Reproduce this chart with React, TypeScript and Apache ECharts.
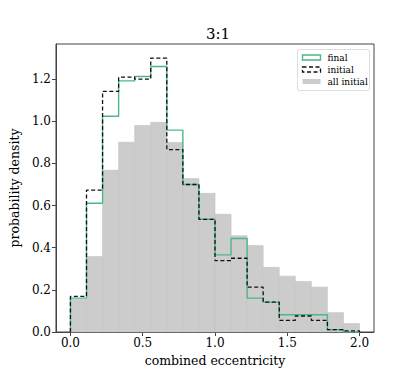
import React, { useEffect, useRef } from "react";
import * as echarts from "echarts";

const title = "3:1";
const xName = "combined eccentricity";
const yName = "probability density";
const xTicks = [0, 0.5, 1.0, 1.5, 2.0];
const yTicks = [0, 0.2, 0.4, 0.6, 0.8, 1.0, 1.2];
const binCount = 18;
const binStart = 0;
const binEnd = 2.0;

const allInitial = [0.155, 0.358, 0.768, 0.901, 0.98, 0.995, 0.9, 0.728, 0.658, 0.559, 0.457, 0.41, 0.307, 0.265, 0.24, 0.213, 0.092, 0.04];
const finalVals = [0.161, 0.611, 1.024, 1.192, 1.213, 1.26, 0.958, 0.7, 0.535, 0.366, 0.444, 0.161, 0.142, 0.082, 0.082, 0.082, 0.011, 0];
const initialVals = [0.169, 0.673, 1.142, 1.21, 1.2, 1.3, 0.866, 0.7, 0.535, 0.339, 0.35, 0.213, 0.142, 0.055, 0.076, 0.055, 0.011, 0.005];

const legendNames = ["final", "initial", "all initial"];

const FONT = "'DejaVu Serif', serif";
const GREEN = "#4cb882";
const GRAY = "#cccccc";

function edges(): number[] {
  const w = (binEnd - binStart) / binCount;
  const e: number[] = [];
  for (let i = 0; i <= binCount; i++) e.push(binStart + i * w);
  return e;
}

function stepPoints(vals: number[]): number[][] {
  const e = edges();
  const pts: number[][] = [[e[0], 0]];
  vals.forEach((v, i) => {
    pts.push([e[i], v]);
    pts.push([e[i + 1], v]);
  });
  pts.push([e[vals.length], 0]);
  return pts;
}

export default function App() {
  const ref = useRef<HTMLDivElement>(null);
  useEffect(() => {
    document.body.style.margin = "0";
    const chart = echarts.init(ref.current!, null, { renderer: "svg" });
    const e = edges();
    const barData = allInitial.map((v, i) => [e[i], e[i + 1], v]);
    const lx = 297;
    const ly = 49;
    chart.setOption({
      animation: false,
      title: {
        text: title,
        left: 213,
        top: 21,
        textAlign: "center",
        textStyle: { fontFamily: FONT, fontSize: 15, fontWeight: "normal", color: "#000" },
      },
      grid: {
        left: 52,
        top: 44,
        width: 322,
        height: 288,
        show: true,
        borderColor: "#444",
        borderWidth: 1,
        backgroundColor: "transparent",
      },
      xAxis: {
        type: "value",
        min: -0.1,
        max: 2.1,
        name: xName,
        nameLocation: "middle",
        nameGap: 20,
        nameTextStyle: { fontFamily: FONT, fontSize: 12.5, color: "#000" },
        axisLine: { show: true, onZero: false, lineStyle: { color: "#444" } },
        axisTick: { show: true, length: 4, lineStyle: { color: "#444" }, customValues: xTicks },
        axisLabel: {
          fontFamily: FONT,
          fontSize: 12,
          color: "#000",
          margin: 5,
          customValues: xTicks,
          formatter: (v: number) => v.toFixed(1),
        },
        splitLine: { show: false },
      },
      yAxis: {
        type: "value",
        min: 0,
        max: 1.367,
        name: yName,
        nameLocation: "middle",
        nameGap: 28,
        nameRotate: 90,
        nameTextStyle: { fontFamily: FONT, fontSize: 12.5, color: "#000" },
        axisLine: { show: true, onZero: false, lineStyle: { color: "#444" } },
        axisTick: { show: true, length: 4, lineStyle: { color: "#444" }, customValues: yTicks },
        axisLabel: {
          fontFamily: FONT,
          fontSize: 12,
          color: "#000",
          margin: 5,
          customValues: yTicks,
          formatter: (v: number) => v.toFixed(1),
        },
        splitLine: { show: false },
      },
      series: [
        {
          type: "custom",
          name: legendNames[2],
          z: 1,
          data: barData,
          encode: { x: [0, 1], y: 2 },
          renderItem: (params: any, api: any) => {
            const p0 = api.coord([api.value(0), api.value(2)]);
            const p1 = api.coord([api.value(1), 0]);
            return {
              type: "rect",
              shape: { x: p0[0], y: p0[1], width: p1[0] - p0[0], height: p1[1] - p0[1] },
              style: { fill: GRAY, stroke: "#c3c3c3", lineWidth: 0.6 },
            };
          },
        },
        {
          type: "line",
          name: legendNames[0],
          z: 3,
          data: stepPoints(finalVals),
          symbol: "none",
          lineStyle: { color: GREEN, width: 1.4 },
        },
        {
          type: "line",
          name: legendNames[1],
          z: 4,
          data: stepPoints(initialVals),
          symbol: "none",
          lineStyle: { color: "#111", width: 1.3, type: [4, 2.5] },
        },
      ],
      graphic: [
        {
          type: "group",
          left: lx,
          top: ly,
          children: [
            {
              type: "rect",
              shape: { x: 0, y: 0, width: 72, height: 41, r: 2 },
              style: { fill: "rgba(255,255,255,0.8)", stroke: "#dddddd", lineWidth: 1 },
            },
            {
              type: "rect",
              shape: { x: 5, y: 5.5, width: 18, height: 5 },
              style: { fill: "#fff", stroke: GREEN, lineWidth: 1.4 },
            },
            {
              type: "text",
              x: 30,
              y: 8,
              style: { text: legendNames[0], font: `9px ${FONT}`, fill: "#000", verticalAlign: "middle" },
            },
            {
              type: "rect",
              shape: { x: 5, y: 17.5, width: 18, height: 5 },
              style: { fill: "#fff", stroke: "#111", lineWidth: 1.3, lineDash: [4, 2.5] },
            },
            {
              type: "text",
              x: 30,
              y: 20,
              style: { text: legendNames[1], font: `9px ${FONT}`, fill: "#000", verticalAlign: "middle" },
            },
            {
              type: "rect",
              shape: { x: 5, y: 29.5, width: 18, height: 5 },
              style: { fill: GRAY, stroke: "none" },
            },
            {
              type: "text",
              x: 30,
              y: 32,
              style: { text: legendNames[2], font: `9px ${FONT}`, fill: "#000", verticalAlign: "middle" },
            },
          ],
        },
      ],
    });
    return () => chart.dispose();
  }, []);
  return <div ref={ref} style={{ width: 415, height: 374 }} />;
}
